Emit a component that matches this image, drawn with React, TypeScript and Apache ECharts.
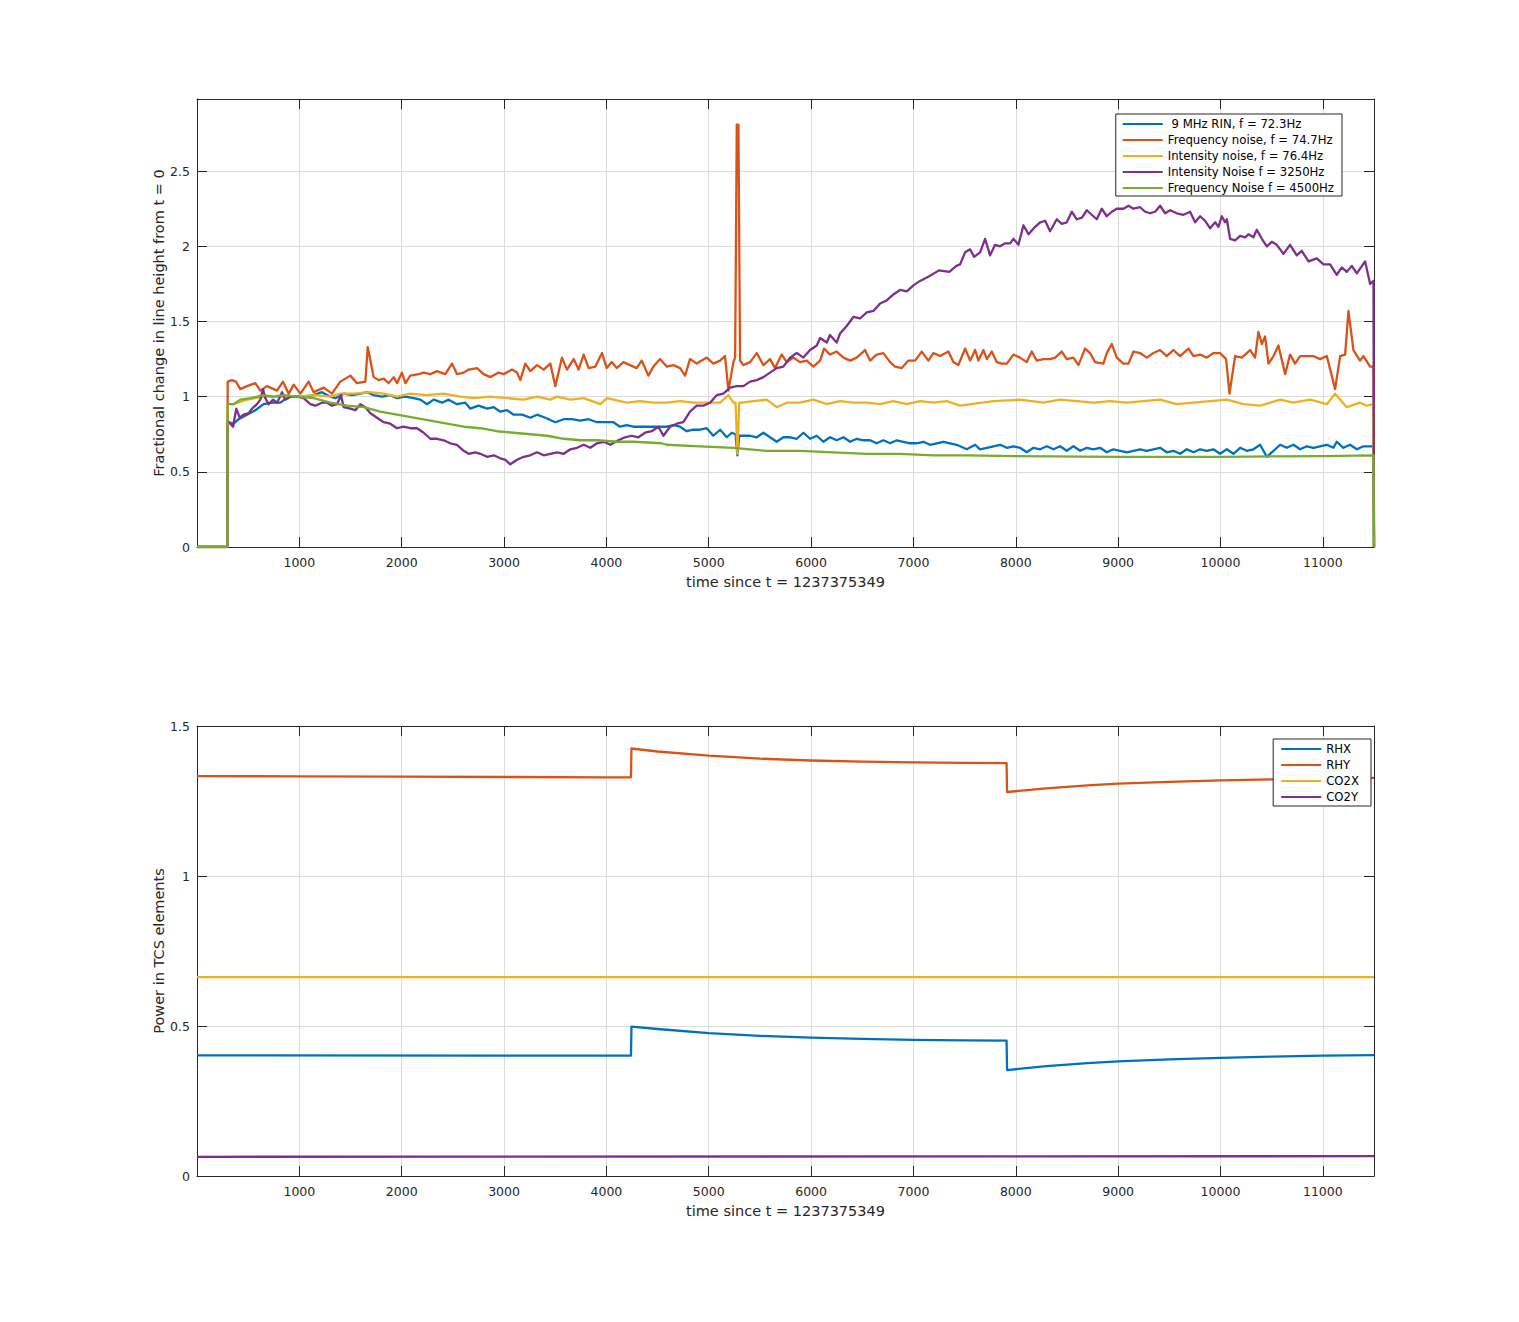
import { useEffect, useRef } from "react";
import * as echarts from "echarts";

type Pt = [number, number];

// top panel: fractional change in line height, [time s, value]
const rin723: Pt[] = [
  [0, 0], [296, 0], [300, 0.83], [358, 0.82], [407, 0.85], [489, 0.88], [570, 0.91], [651, 0.95], [733, 0.96],
  [814, 0.96], [896, 1.0], [977, 1.0], [1059, 1.0], [1140, 1.01], [1221, 1.03], [1303, 1.0], [1352, 0.99],
  [1433, 1.02], [1515, 1.01], [1596, 1.02], [1661, 1.03], [1726, 1.01], [1808, 1.0], [1889, 1.01], [1954, 0.99],
  [2036, 1.0], [2117, 0.99], [2182, 0.98], [2247, 0.95], [2312, 0.98], [2394, 0.96], [2459, 0.98], [2540, 0.95],
  [2622, 0.96], [2671, 0.92], [2752, 0.94], [2834, 0.92], [2899, 0.93], [2964, 0.9], [3029, 0.91], [3094, 0.88],
  [3176, 0.88], [3257, 0.86], [3322, 0.88], [3404, 0.86], [3501, 0.83], [3583, 0.85], [3664, 0.85], [3746, 0.84],
  [3827, 0.85], [3908, 0.83], [4006, 0.83], [4068, 0.83], [4133, 0.8], [4199, 0.81], [4264, 0.8], [4329, 0.8],
  [4394, 0.8], [4459, 0.8], [4524, 0.8], [4589, 0.8], [4655, 0.81], [4720, 0.8], [4785, 0.77], [4850, 0.78],
  [4915, 0.78], [4980, 0.79], [5045, 0.74], [5111, 0.78], [5176, 0.73], [5225, 0.76], [5262, 0.75], [5280, 0.61],
  [5298, 0.74], [5338, 0.74], [5404, 0.74], [5469, 0.73], [5534, 0.76], [5599, 0.73], [5664, 0.7], [5729, 0.73],
  [5795, 0.73], [5860, 0.72], [5925, 0.76], [5990, 0.72], [6055, 0.74], [6120, 0.7], [6185, 0.73], [6250, 0.71],
  [6316, 0.73], [6381, 0.7], [6446, 0.72], [6511, 0.71], [6576, 0.71], [6641, 0.69], [6706, 0.71], [6772, 0.69],
  [6837, 0.71], [6902, 0.7], [6967, 0.69], [7032, 0.69], [7097, 0.7], [7162, 0.68], [7228, 0.69], [7293, 0.7],
  [7358, 0.69], [7423, 0.68], [7456, 0.67], [7521, 0.65], [7603, 0.68], [7651, 0.65], [7717, 0.66], [7782, 0.67],
  [7847, 0.68], [7912, 0.66], [7977, 0.67], [8042, 0.66], [8107, 0.63], [8173, 0.66], [8238, 0.65], [8303, 0.67],
  [8368, 0.65], [8433, 0.67], [8498, 0.64], [8563, 0.67], [8629, 0.64], [8694, 0.66], [8759, 0.65], [8824, 0.66],
  [8889, 0.63], [8954, 0.65], [9019, 0.64], [9085, 0.63], [9150, 0.64], [9215, 0.65], [9280, 0.64], [9345, 0.65],
  [9410, 0.66], [9475, 0.63], [9540, 0.64], [9606, 0.62], [9671, 0.65], [9736, 0.63], [9801, 0.65], [9866, 0.64],
  [9931, 0.65], [9996, 0.62], [10062, 0.65], [10127, 0.62], [10192, 0.66], [10257, 0.64], [10322, 0.65],
  [10387, 0.68], [10453, 0.6], [10518, 0.64], [10583, 0.68], [10648, 0.66], [10713, 0.68], [10778, 0.65],
  [10843, 0.67], [10908, 0.66], [10973, 0.67], [11039, 0.68], [11104, 0.66], [11136, 0.7], [11201, 0.66],
  [11266, 0.68], [11332, 0.65], [11397, 0.67], [11462, 0.67], [11495, 0.67], [11500, 0],
];

const freq747: Pt[] = [
  [0, 0], [296, 0], [300, 1.1], [340, 1.11], [380, 1.1], [423, 1.05], [489, 1.07], [570, 1.09], [619, 1.04],
  [684, 1.07], [782, 1.04], [840, 1.1], [896, 1.02], [945, 1.08], [1010, 1.02], [1091, 1.1], [1140, 1.03],
  [1238, 1.06], [1319, 1.02], [1400, 1.1], [1498, 1.14], [1563, 1.09], [1645, 1.1], [1668, 1.33], [1694, 1.24],
  [1726, 1.13], [1775, 1.11], [1824, 1.12], [1873, 1.09], [1922, 1.13], [1954, 1.09], [2003, 1.16], [2036, 1.09],
  [2084, 1.14], [2166, 1.15], [2215, 1.16], [2280, 1.15], [2345, 1.17], [2426, 1.15], [2492, 1.22], [2540, 1.15],
  [2606, 1.16], [2654, 1.18], [2736, 1.19], [2801, 1.15], [2866, 1.13], [2948, 1.16], [2996, 1.15], [3078, 1.18],
  [3127, 1.16], [3159, 1.11], [3208, 1.22], [3257, 1.17], [3322, 1.21], [3387, 1.18], [3452, 1.22], [3501, 1.07],
  [3566, 1.26], [3615, 1.18], [3680, 1.25], [3729, 1.18], [3778, 1.28], [3827, 1.19], [3892, 1.2], [3957, 1.29],
  [4003, 1.19], [4052, 1.23], [4101, 1.19], [4166, 1.23], [4231, 1.21], [4296, 1.19], [4345, 1.24], [4410, 1.14],
  [4459, 1.2], [4524, 1.25], [4589, 1.2], [4655, 1.21], [4720, 1.19], [4769, 1.14], [4817, 1.25], [4883, 1.22],
  [4980, 1.26], [5045, 1.22], [5111, 1.24], [5159, 1.27], [5192, 1.04], [5241, 1.23], [5258, 1.26], [5274, 2.81],
  [5290, 2.81], [5306, 1.24], [5338, 1.21], [5404, 1.23], [5469, 1.29], [5534, 1.21], [5599, 1.25], [5648, 1.19],
  [5713, 1.28], [5762, 1.23], [5827, 1.26], [5892, 1.23], [5957, 1.24], [6022, 1.2], [6088, 1.24], [6127, 1.32],
  [6185, 1.28], [6250, 1.3], [6316, 1.26], [6381, 1.24], [6446, 1.26], [6527, 1.31], [6576, 1.24], [6641, 1.28],
  [6706, 1.29], [6772, 1.23], [6820, 1.2], [6886, 1.19], [6951, 1.24], [7016, 1.24], [7081, 1.3], [7146, 1.24],
  [7195, 1.29], [7260, 1.27], [7342, 1.3], [7390, 1.23], [7439, 1.21], [7505, 1.32], [7554, 1.24], [7603, 1.31],
  [7635, 1.24], [7684, 1.31], [7717, 1.25], [7765, 1.3], [7814, 1.23], [7863, 1.22], [7912, 1.22], [7977, 1.28],
  [8042, 1.26], [8107, 1.23], [8156, 1.3], [8205, 1.24], [8270, 1.25], [8335, 1.25], [8384, 1.26], [8449, 1.3],
  [8498, 1.25], [8563, 1.26], [8612, 1.21], [8677, 1.32], [8726, 1.29], [8775, 1.23], [8856, 1.22], [8889, 1.29],
  [8938, 1.35], [8987, 1.26], [9052, 1.22], [9101, 1.22], [9150, 1.3], [9215, 1.29], [9280, 1.26], [9345, 1.29],
  [9410, 1.31], [9475, 1.27], [9540, 1.31], [9606, 1.27], [9687, 1.32], [9736, 1.27], [9801, 1.28], [9866, 1.26],
  [9931, 1.29], [9996, 1.29], [10055, 1.25], [10088, 1.02], [10143, 1.27], [10208, 1.26], [10290, 1.31],
  [10338, 1.26], [10371, 1.43], [10404, 1.35], [10436, 1.4], [10469, 1.22], [10518, 1.27], [10566, 1.34],
  [10632, 1.15], [10680, 1.28], [10729, 1.22], [10778, 1.27], [10843, 1.27], [10908, 1.27], [10973, 1.25],
  [11039, 1.27], [11120, 1.05], [11169, 1.27], [11218, 1.28], [11250, 1.57], [11299, 1.31], [11364, 1.24],
  [11397, 1.27], [11462, 1.2], [11495, 1.2], [11500, 0],
];

const int764: Pt[] = [
  [0, 0], [296, 0], [300, 0.95], [358, 0.95], [489, 0.98], [651, 1.0], [977, 1.0], [1140, 1.01], [1303, 1.0],
  [1400, 1.02], [1531, 1.02], [1694, 1.03], [1824, 1.02], [1954, 1.0], [2084, 1.02], [2247, 1.01], [2410, 1.02],
  [2573, 1.0], [2703, 0.99], [2866, 1.0], [3029, 0.99], [3192, 0.98], [3322, 1.0], [3452, 0.98], [3518, 1.0],
  [3648, 0.98], [3778, 0.99], [3941, 0.95], [4006, 0.99], [4068, 0.98], [4199, 0.96], [4329, 0.97], [4459, 0.96],
  [4589, 0.96], [4720, 0.97], [4850, 0.96], [4980, 0.96], [5111, 0.96], [5192, 1.01], [5241, 0.96], [5262, 0.96],
  [5280, 0.62], [5298, 0.96], [5322, 0.96], [5436, 0.97], [5566, 0.98], [5664, 0.93], [5762, 0.96], [5892, 0.96],
  [6022, 0.98], [6153, 0.95], [6283, 0.97], [6413, 0.96], [6544, 0.96], [6674, 0.95], [6804, 0.97], [6935, 0.95],
  [7065, 0.97], [7195, 0.96], [7325, 0.97], [7455, 0.94], [7782, 0.97], [8042, 0.98], [8270, 0.96], [8433, 0.98],
  [8759, 0.96], [8922, 0.97], [9085, 0.96], [9410, 0.98], [9573, 0.95], [9736, 0.96], [9899, 0.97], [10062, 0.98],
  [10225, 0.95], [10387, 0.94], [10583, 0.98], [10713, 0.96], [10876, 0.98], [11039, 0.95], [11120, 1.02],
  [11234, 0.93], [11364, 0.96], [11429, 0.94], [11495, 0.95], [11500, 0],
];

const int3250: Pt[] = [
  [0, 0], [296, 0], [300, 0.84], [352, 0.8], [384, 0.92], [417, 0.86], [456, 0.88], [505, 0.89], [537, 0.92],
  [586, 0.95], [619, 0.98], [645, 1.05], [668, 0.99], [700, 0.95], [743, 0.98], [782, 0.96], [831, 1.03],
  [863, 0.98], [912, 1.0], [977, 1.0], [1042, 0.99], [1107, 0.95], [1156, 0.94], [1221, 0.96], [1270, 0.96],
  [1319, 0.94], [1368, 0.95], [1407, 1.01], [1433, 0.93], [1498, 0.92], [1547, 0.91], [1596, 0.95], [1645, 0.93],
  [1694, 0.89], [1759, 0.86], [1824, 0.83], [1889, 0.82], [1954, 0.79], [2019, 0.8], [2084, 0.79], [2150, 0.79],
  [2215, 0.76], [2280, 0.72], [2345, 0.72], [2410, 0.71], [2475, 0.69], [2540, 0.68], [2606, 0.64], [2654, 0.62],
  [2720, 0.63], [2768, 0.62], [2834, 0.6], [2899, 0.61], [2964, 0.59], [3013, 0.58], [3061, 0.55], [3127, 0.58],
  [3192, 0.6], [3257, 0.61], [3322, 0.63], [3387, 0.61], [3452, 0.62], [3518, 0.63], [3583, 0.62], [3648, 0.65],
  [3713, 0.66], [3778, 0.68], [3843, 0.66], [3908, 0.69], [3974, 0.7], [4039, 0.68], [4117, 0.71], [4182, 0.73],
  [4247, 0.74], [4313, 0.73], [4378, 0.76], [4443, 0.77], [4508, 0.8], [4557, 0.74], [4622, 0.8], [4687, 0.82],
  [4752, 0.83], [4817, 0.9], [4883, 0.94], [4948, 0.94], [5013, 0.96], [5078, 1.01], [5143, 1.02], [5208, 1.06],
  [5273, 1.07], [5338, 1.07], [5404, 1.1], [5469, 1.11], [5534, 1.13], [5599, 1.16], [5664, 1.19], [5729, 1.2],
  [5795, 1.26], [5860, 1.29], [5925, 1.26], [5990, 1.31], [6055, 1.34], [6088, 1.39], [6153, 1.36], [6185, 1.41],
  [6250, 1.36], [6283, 1.42], [6348, 1.47], [6413, 1.53], [6478, 1.52], [6544, 1.56], [6609, 1.57], [6674, 1.62],
  [6739, 1.64], [6804, 1.68], [6869, 1.71], [6935, 1.7], [7000, 1.74], [7065, 1.77], [7150, 1.8], [7250, 1.84],
  [7350, 1.83], [7420, 1.87], [7456, 1.88], [7505, 1.96], [7554, 1.98], [7593, 1.93], [7651, 1.96], [7700, 2.05],
  [7749, 1.94], [7798, 2.01], [7847, 2.0], [7896, 2.02], [7945, 2.02], [7977, 2.05], [8026, 2.01], [8075, 2.14],
  [8124, 2.08], [8189, 2.13], [8238, 2.16], [8287, 2.17], [8335, 2.1], [8401, 2.18], [8449, 2.15], [8498, 2.16],
  [8547, 2.23], [8596, 2.18], [8645, 2.19], [8694, 2.24], [8742, 2.21], [8791, 2.18], [8840, 2.25], [8889, 2.2],
  [8938, 2.23], [8987, 2.25], [9052, 2.25], [9101, 2.27], [9150, 2.25], [9215, 2.26], [9264, 2.23], [9313, 2.22],
  [9361, 2.23], [9410, 2.27], [9459, 2.22], [9508, 2.24], [9573, 2.22], [9638, 2.21], [9703, 2.23], [9752, 2.16],
  [9801, 2.2], [9850, 2.17], [9899, 2.12], [9948, 2.16], [9980, 2.13], [10013, 2.2], [10045, 2.16], [10062, 2.18],
  [10094, 2.05], [10143, 2.04], [10192, 2.07], [10241, 2.06], [10273, 2.08], [10322, 2.06], [10355, 2.11],
  [10404, 2.05], [10453, 2.0], [10501, 2.03], [10550, 2.01], [10615, 1.95], [10680, 2.01], [10745, 1.94],
  [10794, 1.97], [10860, 1.9], [10941, 1.92], [11006, 1.88], [11071, 1.88], [11136, 1.81], [11185, 1.86],
  [11234, 1.83], [11283, 1.87], [11332, 1.82], [11413, 1.9], [11462, 1.75], [11495, 1.77], [11500, 0],
];

const freq4500: Pt[] = [
  [0, 0], [296, 0], [300, 0.95], [358, 0.95], [423, 0.98], [521, 0.99], [651, 1.01], [749, 1.0], [847, 1.01],
  [977, 1.0], [1140, 0.99], [1303, 0.96], [1466, 0.94], [1629, 0.93], [1791, 0.9], [1954, 0.88], [2117, 0.86],
  [2280, 0.84], [2443, 0.82], [2606, 0.8], [2768, 0.79], [2931, 0.77], [3094, 0.76], [3257, 0.75], [3420, 0.74],
  [3583, 0.72], [3746, 0.71], [3908, 0.71], [4104, 0.7], [4264, 0.7], [4540, 0.69], [4589, 0.68], [4915, 0.67],
  [5241, 0.66], [5566, 0.64], [5892, 0.64], [6218, 0.63], [6544, 0.62], [6869, 0.62], [7195, 0.61], [7520, 0.61],
  [8000, 0.605], [9000, 0.6], [10000, 0.6], [11000, 0.605], [11495, 0.61], [11500, 0],
];

// bottom panel: power in TCS elements
const rhx: Pt[] = [
  [0, 0.402], [4240, 0.401], [4245, 0.498], [4500, 0.49], [5000, 0.476], [5500, 0.467], [6000, 0.461],
  [6500, 0.457], [7000, 0.454], [7500, 0.452], [7910, 0.451], [7915, 0.353], [8300, 0.366], [8700, 0.376],
  [9000, 0.382], [9500, 0.389], [10000, 0.394], [10500, 0.398], [11000, 0.401], [11500, 0.403],
];
const rhy: Pt[] = [
  [0, 1.333], [1000, 1.332], [2000, 1.331], [3000, 1.33], [4000, 1.329], [4240, 1.329], [4245, 1.425],
  [4500, 1.415], [5000, 1.401], [5500, 1.391], [6000, 1.385], [6500, 1.381], [7000, 1.379], [7500, 1.377],
  [7910, 1.376], [7915, 1.28], [8300, 1.292], [8700, 1.302], [9000, 1.308], [9500, 1.314], [10000, 1.319],
  [10500, 1.322], [11000, 1.325], [11500, 1.327],
];
const co2x: Pt[] = [[0, 0.663], [11500, 0.663]];
const co2y: Pt[] = [[0, 0.064], [11500, 0.066]];

const topNames = [
  " 9 MHz RIN, f = 72.3Hz",
  "Frequency noise, f = 74.7Hz",
  "Intensity noise, f = 76.4Hz",
  "Intensity Noise f = 3250Hz",
  "Frequency Noise f = 4500Hz",
];
const bottomNames = ["RHX", "RHY", "CO2X", "CO2Y"];
const colors = ["#0072BD", "#D95319", "#EDB120", "#7E2F8E", "#77AC30"];

const FONT = "DejaVu Sans";
const INK = "#262626";
const GRIDLINE = "#dcdcdc";

function xPair(gridIndex: number, name: string) {
  const base = {
    type: "value",
    gridIndex,
    min: 0,
    max: 11500,
    interval: 1000,
    axisLine: { show: true, onZero: false, lineStyle: { color: INK, width: 1 } },
    axisTick: { show: true, inside: true, length: 10, lineStyle: { color: INK } },
  };
  return [
    {
      ...base,
      position: "bottom",
      name,
      nameLocation: "middle",
      nameGap: 27,
      nameMoveOverlap: false,
      nameTextStyle: { fontFamily: FONT, fontSize: 14.5, color: INK },
      axisLabel: {
        fontFamily: FONT, fontSize: 12.5, color: INK, margin: 9,
        showMinLabel: false, showMaxLabel: false,
        formatter: (v: number) => String(v),
      },
      splitLine: { show: true, lineStyle: { color: GRIDLINE, width: 1 } },
    },
    { ...base, position: "top", axisLabel: { show: false }, splitLine: { show: false } },
  ];
}

function yPair(gridIndex: number, name: string, max: number, showMax: boolean) {
  const base = {
    type: "value",
    gridIndex,
    min: 0,
    max,
    interval: 0.5,
    axisLine: { show: true, onZero: false, lineStyle: { color: INK, width: 1 } },
    axisTick: { show: true, inside: true, length: 10, lineStyle: { color: INK } },
  };
  return [
    {
      ...base,
      position: "left",
      name,
      nameLocation: "middle",
      nameGap: 31,
      nameMoveOverlap: false,
      nameTextStyle: { fontFamily: FONT, fontSize: 14.5, color: INK },
      axisLabel: {
        fontFamily: FONT, fontSize: 12.5, color: INK, margin: 7, showMaxLabel: showMax,
        formatter: (v: number) => String(v),
      },
      splitLine: { show: true, lineStyle: { color: GRIDLINE, width: 1 } },
    },
    { ...base, position: "right", axisLabel: { show: false }, splitLine: { show: false } },
  ];
}

function lineSeries(name: string, data: Pt[], color: string, axis: number) {
  return {
    type: "line",
    name,
    data,
    xAxisIndex: axis,
    yAxisIndex: axis,
    showSymbol: false,
    symbol: "none",
    color,
    lineStyle: { color, width: 2.3, join: "round" },
    emphasis: { disabled: true },
  };
}

export default function App() {
  const ref = useRef<HTMLDivElement>(null);

  useEffect(() => {
    const el = ref.current;
    if (!el) return;
    const chart = echarts.init(el, undefined, { renderer: "svg" });
    const topData = [rin723, freq747, int764, int3250, freq4500];
    const bottomData = [rhx, rhy, co2x, co2y];
    const legendCommon = {
      orient: "vertical",
      icon: "rect",
      itemWidth: 40,
      itemHeight: 2,
      itemGap: 0,
      borderColor: INK,
      borderWidth: 1,
      backgroundColor: "#fff",
      selectedMode: false,
      textStyle: { fontFamily: FONT, fontSize: 11.7, color: "#000", lineHeight: 16 },
    };
    chart.setOption({
      animation: false,
      backgroundColor: "#fff",
      grid: [
        { left: 197, top: 99, width: 1177, height: 448, containLabel: false, outerBoundsMode: "none" },
        { left: 197, top: 726, width: 1177, height: 450, containLabel: false, outerBoundsMode: "none" },
      ],
      xAxis: [
        ...xPair(0, "time since t = 1237375349"),
        ...xPair(1, "time since t = 1237375349"),
      ],
      yAxis: [
        ...yPair(0, "Fractional change in line height from t = 0", 2.98, false),
        ...yPair(1, "Power in TCS elements", 1.5, true),
      ],
      legend: [
        { ...legendCommon, data: topNames, right: 177, top: 114, padding: [2, 8, 0, 7] },
        { ...legendCommon, data: bottomNames, right: 148, top: 739, padding: [2, 12, 1, 8] },
      ],
      series: [
        ...topNames.map((n, i) => lineSeries(n, topData[i], colors[i], 0)),
        ...bottomNames.map((n, i) => lineSeries(n, bottomData[i], colors[i], 2)),
      ],
    });
    return () => {
      chart.dispose();
    };
  }, []);

  return (
    <div
      ref={ref}
      style={{ position: "absolute", left: 0, top: 0, width: 1519, height: 1322, background: "#fff" }}
    />
  );
}
